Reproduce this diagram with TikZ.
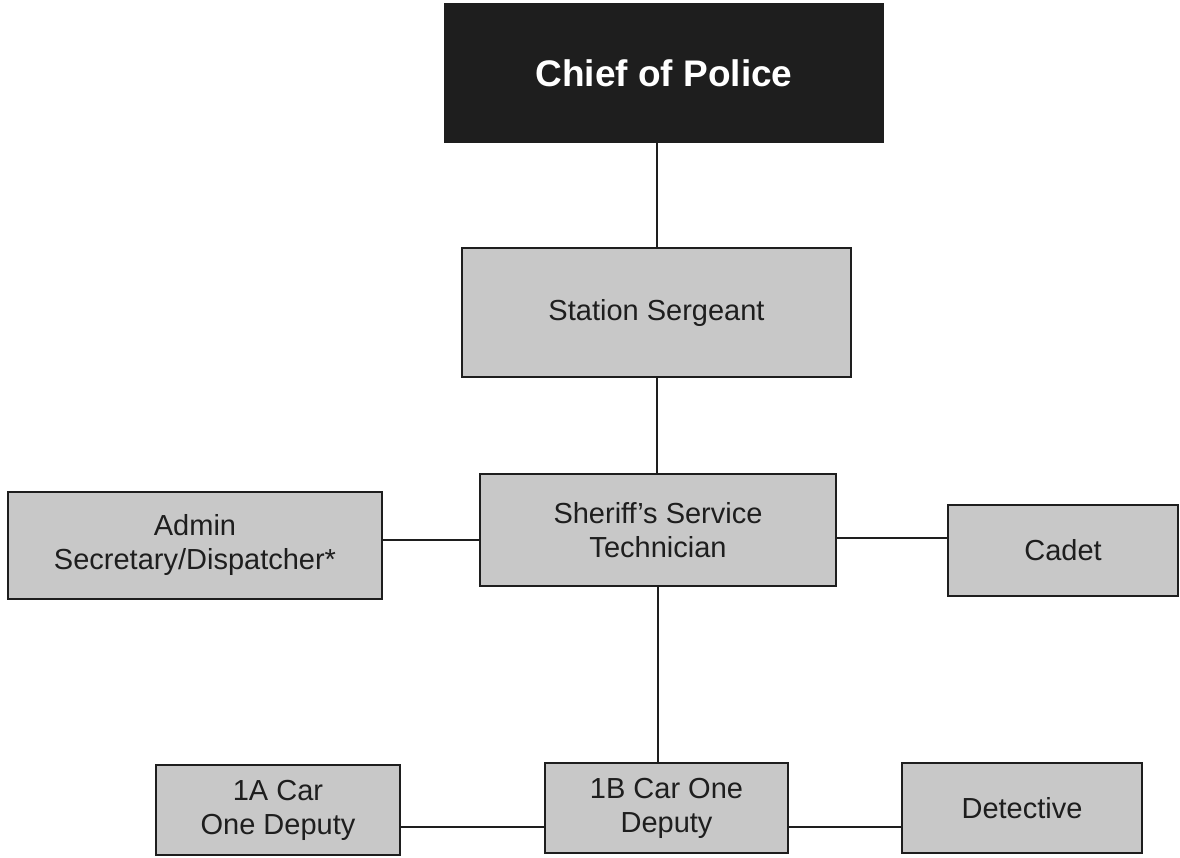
\documentclass[tikz,border=0pt]{standalone}
\usepackage{fontspec}
\setmainfont{Liberation Sans}
\definecolor{boxgray}{RGB}{200,200,200}
\definecolor{ink}{RGB}{30,30,30}
\begin{document}
\begin{tikzpicture}[x=1pt,y=-1pt,
  unit/.style={draw=ink,line width=2pt,fill=boxgray,align=center,inner sep=0pt,
    text=ink,font=\fontsize{29}{34}\selectfont},
  chief/.style={draw=ink,line width=2pt,fill=ink,text=white,inner sep=0pt,
    font=\fontsize{37}{42}\selectfont\bfseries},
  link/.style={draw=ink,line width=2pt}]
\useasboundingbox (0,0) rectangle (1180,857);
\node[chief,minimum width=438pt,minimum height=138pt] (chief) at (664,73) {Chief of Police};
\node[unit,minimum width=389pt,minimum height=129pt] (sgt) at (656.5,312.5) {Station Sergeant};
\node[unit,minimum width=356pt,minimum height=112pt] (sher) at (658,530) {Sheriff's Service\\Technician};
\node[unit,minimum width=374pt,minimum height=107pt] (admin) at (195,545) {Admin\\Secretary/Dispatcher*};
\node[unit,minimum width=230pt,minimum height=91pt] (cadet) at (1063,550.5) {Cadet};
\node[unit,minimum width=244pt,minimum height=90pt] (a1) at (278,810) {1A Car\\One Deputy};
\node[unit,minimum width=243pt,minimum height=90pt] (b1) at (666.5,808) {1B Car One\\Deputy};
\node[unit,minimum width=240pt,minimum height=90pt] (det) at (1022,808) {Detective};
\draw[link] (sgt.north) -- (sgt.north |- chief.south);
\draw[link] (sgt.south) -- (sgt.south |- sher.north);
\draw[link] (sher.south) -- (sher.south |- b1.north);
\draw[link] ([yshift=5pt]admin.east) -- ([yshift=5pt]admin.east -| sher.west);
\draw[link] ([yshift=-8pt]sher.east) -- ([yshift=-8pt]sher.east -| cadet.west);
\draw[link] ([yshift=-19pt]b1.west) -- ([yshift=-19pt]b1.west -| a1.east);
\draw[link] ([yshift=-19pt]b1.east) -- ([yshift=-19pt]b1.east -| det.west);
\end{tikzpicture}
\end{document}
